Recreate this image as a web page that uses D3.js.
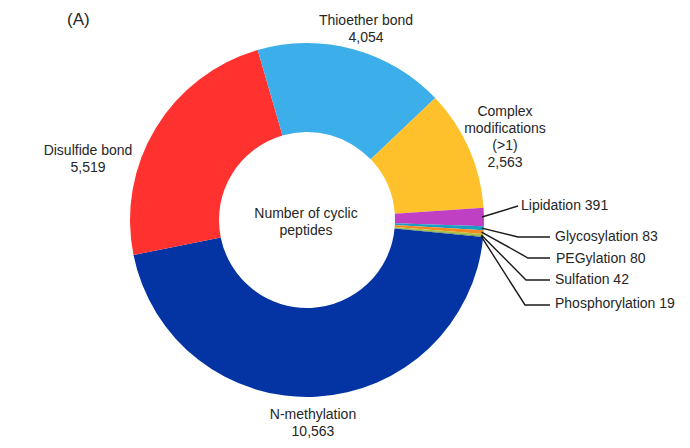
<!DOCTYPE html>
<html><head><meta charset="utf-8">
<script src="https://cdn.jsdelivr.net/npm/d3@7"></script>
<style>body{margin:0;background:#fff}svg{display:block}text{font-family:Arial,"Liberation Sans",sans-serif;fill:#262626}</style>
</head><body>
<svg id="c" width="690" height="448"></svg>
<script>
const categories = ["N-methylation","Disulfide bond","Thioether bond","Complex modifications (>1)","Lipidation","Glycosylation","PEGylation","Sulfation","Phosphorylation"];
const values = [10563,5519,4054,2563,391,83,80,42,19];
const colors = ["#0434a3","#ff3230","#3caeea","#ffc12b","#c040c4","#1a9fc4","#f58a22","#a8c23a","#6a8a50"];

const svg = d3.select("#c");
const cx = 307, cy = 220, R = 177, r = 88;
const startA = 95.5 * Math.PI / 180;
const pie = d3.pie().sort(null).startAngle(startA).endAngle(startA + 2*Math.PI);
const arcs = pie(values);
const arc = d3.arc().innerRadius(r).outerRadius(R);
const g = svg.append("g").attr("transform", `translate(${cx},${cy})`);
g.selectAll("path").data(arcs).join("path").attr("d", arc).attr("fill", (d,i)=>colors[i]);

const fmt = d3.format(",");
const fs = 14;
function block(x, y, lines, anchor) {
  const t = svg.append("text").attr("x", x).attr("y", y).attr("text-anchor", anchor||"middle").style("font-size", fs+"px");
  lines.forEach((l,i)=> t.append("tspan").attr("x", x).attr("dy", i===0?0:17).text(l));
}
// big labels
block(366, 25, ["Thioether bond", fmt(values[2])]);
block(88, 155, ["Disulfide bond", fmt(values[1])]);
block(505, 116, ["Complex", "modifications", "(>1)", fmt(values[3])]);
block(313, 419, ["N-methylation", fmt(values[0])]);
block(306, 218, ["Number of cyclic", "peptides"]);
svg.append("text").attr("x", 67).attr("y", 25).style("font-size", "17px").text("(A)");

// small labels with leaders
const small = [
  {i:4, elbow:[518,206], end:null, tx:521, ty:210},
  {i:5, elbow:[518,237], end:[550,237], tx:555, ty:241},
  {i:6, elbow:[528,258], end:[550,258], tx:556, ty:263},
  {i:7, elbow:[526,280], end:[550,280], tx:555, ty:284},
  {i:8, elbow:[525,305], end:[550,305], tx:555, ty:308}
];
const line = d3.line();
small.forEach(s => {
  const a = arcs[s.i];
  const m = (a.startAngle + a.endAngle)/2;
  const p0 = [cx + (R-2)*Math.sin(m), cy - (R-2)*Math.cos(m)];
  const pts = [p0, s.elbow];
  if (s.end) pts.push(s.end);
  svg.append("path").attr("d", line(pts)).attr("fill","none").attr("stroke","#1a1a1a").attr("stroke-width",1.4);
  svg.append("text").attr("x", s.tx).attr("y", s.ty).style("font-size", fs+"px").text(categories[s.i] + " " + fmt(values[s.i]));
});
</script>
</body></html>
